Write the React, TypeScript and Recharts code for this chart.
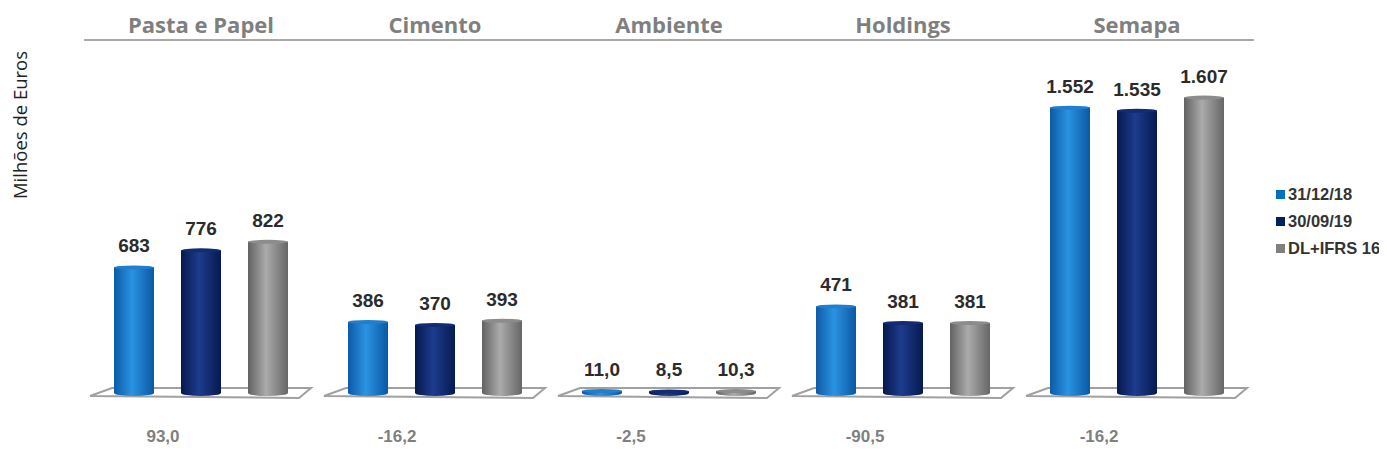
import { BarChart, Bar, XAxis, YAxis, LabelList, Legend } from 'recharts';

const categories = ['Pasta e Papel', 'Cimento', 'Ambiente', 'Holdings', 'Semapa'];
const series2018 = [683, 386, 11.0, 471, 1552];
const series2019 = [776, 370, 8.5, 381, 1535];
const seriesIfrs = [822, 393, 10.3, 381, 1607];
const variation = [93.0, -16.2, -2.5, -90.5, -16.2];
const seriesNames = ['31/12/18', '30/09/19', 'DL+IFRS 16'];
const legendColors = ['#0070c0', '#002060', '#808080'];

const data = categories.map((name, i) => ({
  name,
  a: series2018[i],
  b: series2019[i],
  c: seriesIfrs[i],
}));

const BAR_SIZE = 40;
const BAR_GAP = 27;

// cylinder shading per series: edge, highlight, edge, top cap
const GRADS = [
  { stops: ['#0d5aa6', '#2a93e2', '#0b58a3'], top: '#1f7fce' },
  { stops: ['#06184d', '#1d3c8e', '#061a50'], top: '#122c72' },
  { stops: ['#626262', '#ababab', '#666666'], top: '#8c8c8c' },
];

const fmt = (v: number) =>
  Math.abs(v) < 100
    ? v.toFixed(1).replace('.', ',')
    : String(Math.round(v)).replace(/\B(?=(\d{3})+(?!\d))/g, '.');

function makeCylinder(k: number, floor: boolean) {
  return (props: any) => {
    const { x, y, width, height } = props;
    const g = GRADS[k];
    const id = `cyl-${k}`;
    const rx = width / 2;
    const ry = 2;
    const base = y + height;
    const groupRight = x + 3 * BAR_SIZE + 2 * BAR_GAP;
    return (
      <g>
        <defs>
          <linearGradient id={id} x1="0" y1="0" x2="1" y2="0">
            <stop offset="0%" stopColor={g.stops[0]} />
            <stop offset="45%" stopColor={g.stops[1]} />
            <stop offset="100%" stopColor={g.stops[2]} />
          </linearGradient>
        </defs>
        {floor && (
          <polygon
            points={`${x - 24},${base + 3} ${x - 2},${base - 5} ${groupRight + 23},${base - 5} ${groupRight + 11},${base + 5}`}
            fill="#ffffff"
            stroke="#a0a0a0"
            strokeWidth={2}
          />
        )}
        <path
          d={`M${x},${y} L${x},${base} A${rx},${ry + 1} 0 0 0 ${x + width},${base} L${x + width},${y} Z`}
          fill={`url(#${id})`}
        />
        <ellipse cx={x + rx} cy={y} rx={rx} ry={ry} fill={g.top} />
      </g>
    );
  };
}

const TitleTick = ({ x, y, payload }: any) => (
  <text x={x} y={y + 1} textAnchor="middle" fill="#7f7f7f" fontFamily="Open Sans" fontWeight={700} fontSize={22}>
    {payload.value}
  </text>
);

const VarTick = ({ x, y, payload, index }: any) => (
  <text
    x={x - 38}
    y={y + 41}
    textAnchor="middle"
    fill="#7f7f7f"
    fontFamily="Liberation Sans, Arial, sans-serif"
    fontWeight={700}
    fontSize={17}
  >
    {fmt(variation[payload.index ?? index])}
  </text>
);

const LegendContent = ({ payload }: any) => {
  const items = [...(payload || [])].sort(
    (p: any, q: any) => seriesNames.indexOf(p.value) - seriesNames.indexOf(q.value)
  );
  return (
    <div style={{ fontFamily: 'Liberation Sans, Arial, sans-serif', fontWeight: 700, fontSize: 16.5, color: '#333', whiteSpace: 'nowrap' }}>
      {items.map((p: any) => (
        <div key={p.value} style={{ display: 'flex', alignItems: 'center', height: 27 }}>
          <span style={{ width: 9, height: 9, background: p.color, marginRight: 3, display: 'inline-block' }} />
          {p.value}
        </div>
      ))}
    </div>
  );
};

const labelStyle = {
  fontFamily: 'Liberation Sans, Arial, sans-serif',
  fontWeight: 700,
  fontSize: 19,
  fill: '#2b2b2b',
};

export default function App() {
  return (
    <BarChart
      width={1379}
      height={449}
      data={data}
      margin={{ top: 0, right: 133, bottom: 34, left: 0 }}
      barSize={BAR_SIZE}
      barGap={BAR_GAP}
    >
      <XAxis
        xAxisId="top"
        orientation="top"
        dataKey="name"
        height={32}
        axisLine={{ stroke: '#8c8c8c', strokeWidth: 1.5 }}
        tickLine={false}
        tick={<TitleTick />}
        interval={0}
      />
      <XAxis dataKey="name" height={30} axisLine={false} tickLine={false} tick={<VarTick />} interval={0} />
      <YAxis
        width={76}
        domain={[0, 1920]}
        tick={false}
        axisLine={false}
        tickLine={false}
        label={(p: any) => (
          <text
            transform={`translate(${((p && p.viewBox && p.viewBox.x) || 0) + 19},117) rotate(-90)`}
            textAnchor="middle"
            fill="#222"
            fontFamily="Open Sans"
            fontSize={18.5}
          >
            Milhões de Euros
          </text>
        )}
      />
      <Legend
        layout="vertical"
        align="center"
        verticalAlign="middle"
        wrapperStyle={{ left: 1268, top: 173, width: 110 }}
        content={<LegendContent />}
      />
      <Bar dataKey="a" name={seriesNames[0]} fill={legendColors[0]} shape={makeCylinder(0, true)} isAnimationActive={false}>
        <LabelList dataKey="a" position="top" offset={15} formatter={(v: any) => fmt(Number(v))} style={labelStyle} />
      </Bar>
      <Bar dataKey="b" name={seriesNames[1]} fill={legendColors[1]} shape={makeCylinder(1, false)} isAnimationActive={false}>
        <LabelList dataKey="b" position="top" offset={15} formatter={(v: any) => fmt(Number(v))} style={labelStyle} />
      </Bar>
      <Bar dataKey="c" name={seriesNames[2]} fill={legendColors[2]} shape={makeCylinder(2, false)} isAnimationActive={false}>
        <LabelList dataKey="c" position="top" offset={15} formatter={(v: any) => fmt(Number(v))} style={labelStyle} />
      </Bar>
    </BarChart>
  );
}
